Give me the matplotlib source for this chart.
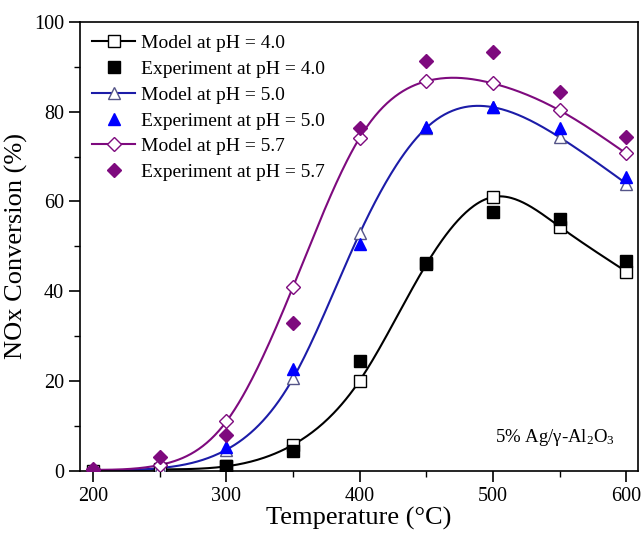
import numpy as np
import matplotlib
matplotlib.use("Agg")
import matplotlib.pyplot as plt
from matplotlib.ticker import MultipleLocator

plt.rcParams['font.family'] = ['Liberation Serif', 'DejaVu Serif']
plt.rcParams['mathtext.fontset'] = 'stix'

temps = [200, 250, 300, 350, 400, 450, 500, 550, 600]
exp_temps = [300, 350, 400, 450, 500, 550, 600]
exp57_temps = [200, 250, 300, 350, 400, 450, 500, 550, 600]

model_40 = [0.0, 0.3, 1.0, 5.8, 20.1, 46.0, 61.0, 54.4, 44.4]
exp_40 = [1.1, 4.5, 24.5, 46.4, 57.7, 56.2, 46.8]
model_50 = [0.0, 0.6, 4.7, 20.6, 52.9, 76.4, 81.0, 74.3, 64.0]
exp_50 = [5.4, 22.7, 50.6, 76.5, 81.1, 76.3, 65.5]
model_57 = [0.2, 1.3, 11.0, 41.0, 74.2, 86.8, 86.3, 80.3, 70.7]
exp_57 = [0.4, 3.0, 7.9, 32.9, 76.3, 91.3, 93.3, 84.3, 74.3]


def natural_spline(x, y, xs):
    x = np.asarray(x, float); y = np.asarray(y, float)
    n = len(x)
    h = np.diff(x)
    A = np.zeros((n, n)); b = np.zeros(n)
    A[0, 0] = 1; A[-1, -1] = 1
    for i in range(1, n - 1):
        A[i, i - 1] = h[i - 1]
        A[i, i] = 2 * (h[i - 1] + h[i])
        A[i, i + 1] = h[i]
        b[i] = 3 * ((y[i + 1] - y[i]) / h[i] - (y[i] - y[i - 1]) / h[i - 1])
    c = np.linalg.solve(A, b)
    out = np.empty_like(xs)
    for k, xv in enumerate(xs):
        i = min(max(np.searchsorted(x, xv) - 1, 0), n - 2)
        dx = xv - x[i]
        bi = (y[i + 1] - y[i]) / h[i] - h[i] * (2 * c[i] + c[i + 1]) / 3
        di = (c[i + 1] - c[i]) / (3 * h[i])
        out[k] = y[i] + bi * dx + c[i] * dx ** 2 + di * dx ** 3
    return out


fig = plt.figure(figsize=(6.44, 5.35), dpi=100)
ax = fig.add_axes([0.124, 0.12, 0.867, 0.839])

xs = np.linspace(200, 600, 400)
black = 'black'
blue_line = '#1c1ca8'
blue = '#0000ff'
purple = '#7e0a7e'

series = [
    (model_40, exp_temps, exp_40, black, black, black, 's', 'Model at pH = 4.0', 'Experiment at pH = 4.0'),
    (model_50, exp_temps, exp_50, blue_line, blue, '#555588', '^', 'Model at pH = 5.0', 'Experiment at pH = 5.0'),
    (model_57, exp57_temps, exp_57, purple, purple, purple, 'D', 'Model at pH = 5.7', 'Experiment at pH = 5.7'),
]

handles = []
for model, et, ev, lc, mc, edge, mk, ml, el in series:
    ms = 8.5 if mk != 'D' else 7.5
    ax.plot(xs, natural_spline(temps, model, xs), color=lc, lw=1.5, zorder=2)
    ax.plot(temps, model, ls='none', marker=mk, mfc='white', mec=edge,
            mew=1.0, ms=ms, zorder=3)
    ax.plot(et, ev, ls='none', marker=mk, color=mc, ms=ms, zorder=4)
    h1, = ax.plot([], [], color=lc, lw=1.5, marker=mk, mfc='white',
                  mec=edge, mew=1.0, ms=ms)
    h2, = ax.plot([], [], ls='none', marker=mk, color=mc, ms=ms)
    handles += [(h1, ml), (h2, el)]

ax.set_xlim(190, 609)
ax.set_ylim(0, 100)
ax.xaxis.set_major_locator(MultipleLocator(100))
ax.xaxis.set_minor_locator(MultipleLocator(50))
ax.yaxis.set_major_locator(MultipleLocator(20))
ax.yaxis.set_minor_locator(MultipleLocator(10))
ax.tick_params(axis='both', which='major', direction='out', length=8, width=1.2,
               labelsize=14.5, top=False, right=False)
ax.tick_params(axis='both', which='minor', direction='out', length=4.5, width=1.0,
               top=False, right=False)
for s in ax.spines.values():
    s.set_linewidth(1.2)

ax.set_xlabel('Temperature (°C)', fontsize=19, labelpad=1)
ax.set_ylabel('NOx Conversion (%)', fontsize=19, labelpad=4)

ax.text(0.958, 0.075, r'5% Ag/γ-Al$\mathregular{_2}$O$\mathregular{_3}$', transform=ax.transAxes,
        fontsize=13.5, ha='right', va='center')

leg = ax.legend([h for h, _ in handles], [l for _, l in handles], loc='upper left',
                frameon=False, fontsize=14, handlelength=2.2, handletextpad=0.3,
                labelspacing=0.42, borderaxespad=0.35, borderpad=0.3)

fig.savefig('out.png', dpi=100)
